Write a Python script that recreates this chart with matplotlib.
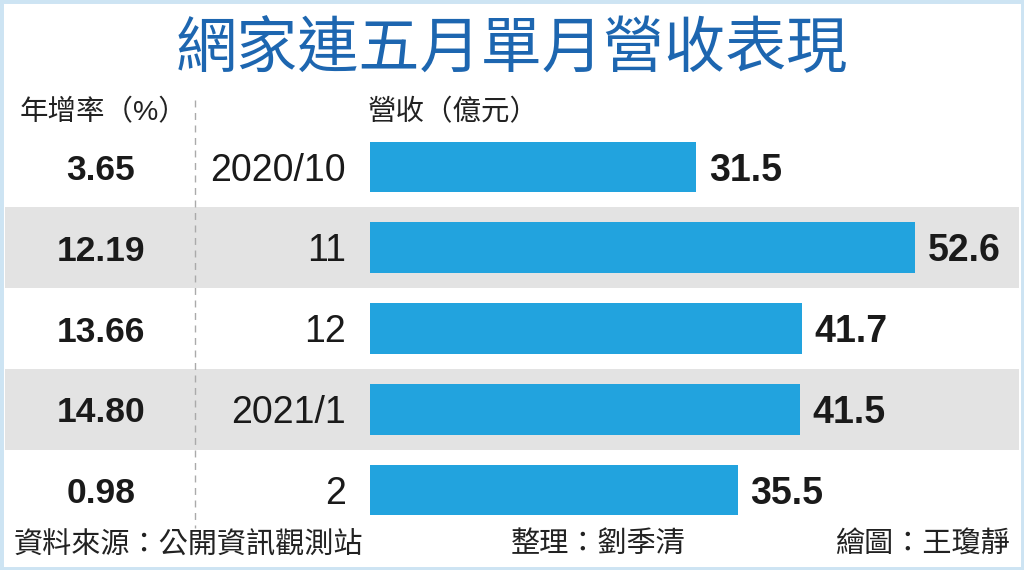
import matplotlib.pyplot as plt
from matplotlib.patches import Rectangle
from matplotlib.lines import Line2D

plt.rcParams['font.family'] = ['Liberation Sans', 'Noto Sans CJK TC', 'DejaVu Sans']

months = ['2020/10', '11', '12', '2021/1', '2']
revenue = [31.5, 52.6, 41.7, 41.5, 35.5]
growth = ['3.65', '12.19', '13.66', '14.80', '0.98']

W, H = 1024, 570
fig = plt.figure(figsize=(W / 100, H / 100), dpi=100)
fig.patch.set_facecolor('white')

# bar axes: full width, rows from y=126.6 to 530.4 px
top, bot = 126.6, 530.4
ax = fig.add_axes([0, 1 - bot / H, 1, (bot - top) / H])
px_per_unit = 10.36
ax.set_xlim(-370 / px_per_unit, (W - 370) / px_per_unit)
ax.set_ylim(len(months) - 0.5, -0.5)
ax.axis('off')

ypos = list(range(len(months)))
for i in ypos:
    if i % 2 == 1:
        ax.axhspan(i - 0.5, i + 0.5, xmin=5 / W, xmax=1019 / W,
                   color='#e3e3e3', zorder=0, lw=0)

ax.barh(ypos, revenue, height=0.63, color='#22a3de', zorder=2)

tr = ax.get_yaxis_transform()
dy = 0.045  # nudge text down a little
for y, v, m, g in zip(ypos, revenue, months, growth):
    ax.text(v + 1.2, y + dy, f'{v}', va='center', ha='left', fontsize=27,
            fontweight='bold', color='#1a1a1a')
    ax.text(346 / W, y + dy, m, transform=tr, va='center', ha='right',
            fontsize=27, color='#1a1a1a')
    ax.text(101 / W, y + dy, g, transform=tr, va='center', ha='center',
            fontsize=25.5, fontweight='bold', color='#1a1a1a')

# title and headers
fig.text(0.5, 1 - 50 / H, '網家連五月單月營收表現', ha='center', va='center',
         fontsize=44, fontweight='medium', color='#1d66b0',
         family=['Noto Sans CJK TC'])
fig.text(20 / W, 1 - 113 / H, '年增率（%）', ha='left', va='center',
         fontsize=20.5, color='#222222')
fig.text(368 / W, 1 - 113 / H, '營收（億元）', ha='left', va='center',
         fontsize=20.5, color='#222222')

# dashed separator
fig.add_artist(Line2D([195 / W, 195 / W], [1 - 100 / H, 1 - 528 / H],
                      transform=fig.transFigure, color='#aaaaaa',
                      lw=1, ls=(0, (5, 4)), zorder=5))

# footer
fy = 1 - 545 / H
fig.text(14 / W, fy, '資料來源：公開資訊觀測站', ha='left', va='center',
         fontsize=21, color='#222222')
fig.text(598 / W, fy, '整理：劉季清', ha='center', va='center',
         fontsize=21, color='#222222')
fig.text(1010 / W, fy, '繪圖：王瓊靜', ha='right', va='center',
         fontsize=21, color='#222222')

# light blue frame
fig.add_artist(Rectangle((0, 0), 1, 1, transform=fig.transFigure,
                         fill=False, edgecolor='#cde4f3', lw=5))

fig.savefig('out.png', dpi=100)
